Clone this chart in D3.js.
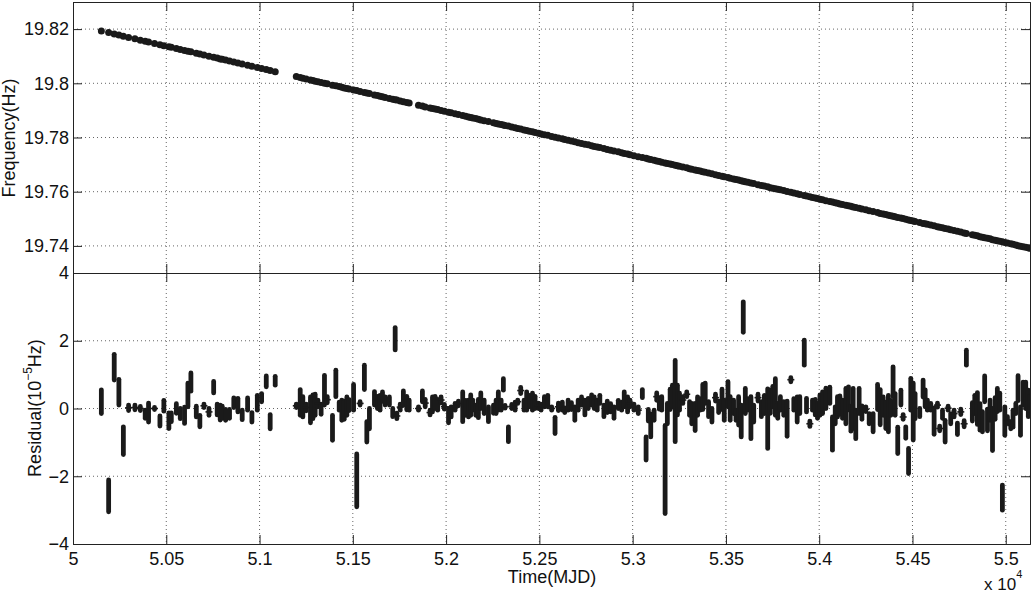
<!DOCTYPE html>
<html><head><meta charset="utf-8">
<script src="https://cdn.jsdelivr.net/npm/d3@7"></script>
<style>
html,body{margin:0;padding:0;background:#fff;}
svg{display:block;font-family:"Liberation Sans",Arial,Helvetica,sans-serif;}
</style></head>
<body>
<svg id="chart" width="1033" height="594"></svg>
<script>
// Observation epochs (MJD)
const times = [50152,50191,50221,50246,50270,50298,50332,50361,50387,50405,50437,50466,50487,50514,50527,50554,50575,50598,50616,50632,50661,50680,50702,50729,50754,50773,50789,50800,50818,50839,50862,50884,50907,50936,50959,50988,51011,51036,51057,51084,
51197,51218,51232,51250,51273,51286,51298,51313,51330,51348,51363,51391,51409,51427,51441,51454,51468,51480,51504,51521,51539,51562,51575,51589,51616,51632,51646,51659,51673,51696,51714,51727,51736,51754,51771,51789,51802,
51852,51873,51888,51914,51927,51941,51955,51973,51991,52013,52027,52048,52066,52089,52105,52120,52132,52143,52159,52173,52186,52204,52227,52254,52268,52280,52295,52307,52316,52334,52352,52370,52384,52400,52418,52432,52447,52463,52477,52495,52509,52527,52545,52566,52584,52602,52623,
52636,52654,52672,52690,52708,52726,52744,52762,52780,52794,52810,52824,52846,52864,52882,52900,52923,52941,52955,52973,52986,53007,53030,53052,53072,53084,53097,53115,53129,53143,53156,53174,53186,53201,53213,53228,53240,53251,53269,53290,53305,53317,53335,53348,53362,53376,53389,53407,53425,53444,53461,53479,53491,53511,53523,53541,53554,53568,53582,53593,53604,53618,53634,53649,53672,53690,53706,53724,53738,53751,53765,53778,53792,53810,53828,53848,53864,53882,53896,
53920,53932,53950,53964,53979,53991,54004,54018,54036,54057,54071,54086,54098,54111,54125,54143,54157,54170,54182,54196,54214,54229,54250,54268,54289,54313,54327,54343,54357,54371,54384,54396,54407,54421,54438,54450,54464,54479,54491,54504,54514,54539,54557,54568,54580,54598,54616,54634,54646,54661,54675,54691,54705,54723,54741,54759,54777,54789,
54821,54834,54848,54862,54875,54887,54902,54916,54929,54943,54955,54968,54982,54995,55009,55027,55039,55054,55066,55079,55093,55107,55121,55128];

// Measured spin frequency (Hz)
const frequency = [19.8193,19.8187,19.8182,19.8178,19.8174,19.8169,19.8164,19.8159,19.8155,19.8152,19.8147,19.8142,19.8139,19.8135,19.8133,19.8128,19.8125,19.8121,19.8118,19.8116,19.8111,19.8108,19.8104,19.8100,19.8096,19.8093,19.8090,19.8089,19.8086,19.8082,19.8079,19.8075,19.8071,19.8067,19.8063,19.8058,19.8055,19.8051,19.8047,19.8043,
19.8025,19.8021,19.8019,19.8016,19.8012,19.8010,19.8008,19.8006,19.8003,19.8000,19.7998,19.7993,19.7991,19.7988,19.7985,19.7983,19.7981,19.7979,19.7975,19.7973,19.7970,19.7966,19.7964,19.7962,19.7957,19.7955,19.7952,19.7950,19.7948,19.7944,19.7941,19.7939,19.7938,19.7935,19.7932,19.7929,19.7927,
19.7919,19.7916,19.7913,19.7909,19.7907,19.7905,19.7903,19.7900,19.7897,19.7893,19.7891,19.7888,19.7885,19.7881,19.7878,19.7876,19.7874,19.7872,19.7870,19.7867,19.7865,19.7862,19.7859,19.7854,19.7852,19.7850,19.7848,19.7846,19.7844,19.7842,19.7839,19.7836,19.7833,19.7831,19.7828,19.7826,19.7823,19.7821,19.7818,19.7816,19.7813,19.7810,19.7808,19.7804,19.7801,19.7798,19.7795,
19.7793,19.7790,19.7787,19.7784,19.7781,19.7778,19.7775,19.7773,19.7770,19.7767,19.7765,19.7763,19.7759,19.7756,19.7753,19.7750,19.7747,19.7744,19.7741,19.7739,19.7736,19.7733,19.7729,19.7726,19.7723,19.7721,19.7719,19.7716,19.7713,19.7711,19.7709,19.7706,19.7704,19.7702,19.7700,19.7698,19.7696,19.7694,19.7691,19.7688,19.7685,19.7683,19.7680,19.7678,19.7676,19.7674,19.7672,19.7669,19.7666,19.7663,19.7660,19.7657,19.7655,19.7652,19.7650,19.7647,19.7645,19.7643,19.7640,19.7639,19.7637,19.7635,19.7632,19.7630,19.7626,19.7623,19.7621,19.7618,19.7615,19.7613,19.7611,19.7609,19.7607,19.7604,19.7601,19.7598,19.7595,19.7592,19.7590,
19.7586,19.7584,19.7581,19.7579,19.7577,19.7575,19.7572,19.7570,19.7567,19.7564,19.7562,19.7559,19.7557,19.7555,19.7553,19.7550,19.7548,19.7546,19.7544,19.7542,19.7539,19.7536,19.7533,19.7530,19.7527,19.7523,19.7520,19.7518,19.7516,19.7513,19.7511,19.7509,19.7508,19.7505,19.7503,19.7501,19.7498,19.7496,19.7494,19.7492,19.7490,19.7486,19.7483,19.7482,19.7480,19.7477,19.7474,19.7471,19.7469,19.7467,19.7464,19.7462,19.7460,19.7457,19.7454,19.7451,19.7448,19.7446,
19.7441,19.7439,19.7437,19.7434,19.7432,19.7430,19.7428,19.7426,19.7423,19.7421,19.7419,19.7417,19.7415,19.7413,19.7411,19.7408,19.7406,19.7403,19.7401,19.7399,19.7397,19.7395,19.7393,19.7391];

// Frequency residuals (units of 1e-5 Hz)
const residual = [0.20,-2.58,1.22,0.48,-0.95,0.02,0.03,0.00,-0.17,-0.12,0.00,-0.37,0.08,-0.36,-0.26,0.00,-0.15,-0.20,0.40,0.78,-0.09,-0.37,0.08,-0.10,0.63,-0.03,-0.12,-0.11,-0.19,-0.16,0.17,0.10,-0.19,0.13,-0.26,0.17,0.32,0.80,-0.39,0.82,
0.08,0.18,0.05,0.03,-0.04,0.05,0.11,0.15,-0.02,0.54,0.26,-0.57,0.74,0.07,-0.05,-0.05,0.07,0.10,0.33,-2.12,0.15,0.92,-0.69,-0.30,0.30,0.18,0.17,0.35,0.22,0.22,-0.12,2.06,-0.22,0.04,0.31,0.16,0.10,
0.00,0.36,0.16,-0.12,0.12,0.18,0.11,0.25,0.05,-0.21,-0.10,0.05,0.15,0.05,0.02,0.00,0.10,0.10,-0.05,0.00,0.23,0.05,-0.17,-0.02,0.05,0.22,0.10,0.71,0.05,-0.76,0.06,0.07,0.20,0.53,0.10,0.22,0.22,0.20,0.18,0.08,0.04,0.20,0.22,0.00,-0.50,0.05,0.07,
-0.05,0.10,0.07,-0.15,0.10,0.22,0.03,0.15,0.25,0.17,0.10,0.27,-0.07,0.05,0.02,-0.12,0.12,0.07,0.27,0.12,0.15,0.04,-0.05,0.44,-1.18,-0.20,-0.50,-0.20,0.35,0.15,0.15,-1.80,-0.15,0.27,0.37,0.22,0.25,0.20,0.25,0.42,0.00,-0.15,-0.25,0.07,0.12,0.34,0.45,-0.02,-0.20,0.32,0.05,0.27,-0.05,0.42,0.00,0.05,-0.20,-0.07,-0.37,2.70,0.22,0.12,-0.27,-0.15,0.32,-0.02,0.12,-0.30,0.20,0.35,0.34,-0.07,0.15,0.00,-0.30,0.85,0.12,-0.03,0.10,
1.65,0.10,-0.45,0.10,0.04,-0.07,0.10,0.17,0.30,0.39,-0.74,-0.20,0.05,0.10,-0.02,0.07,0.30,-0.30,0.00,-0.47,0.22,-0.12,-0.02,-0.30,-0.42,0.34,0.04,0.07,-0.20,-0.15,0.02,0.79,0.12,-0.94,0.32,-0.25,-0.71,-1.55,0.42,-0.09,0.07,-0.12,0.59,0.30,0.10,0.05,-0.37,0.10,-0.59,-0.17,-0.67,0.01,-0.30,-0.15,-0.60,-0.10,-0.45,1.50,
-0.10,0.12,0.00,-0.25,-0.39,0.58,-0.34,-0.05,-0.62,0.00,0.25,0.20,-2.63,-0.37,-0.34,-0.50,-0.30,0.00,0.60,-0.37,0.44,0.39,0.15,0.15];

// Residual uncertainties (units of 1e-5 Hz)
const residualErr = [0.35,0.47,0.38,0.38,0.41,0.08,0.07,0.06,0.12,0.28,0.03,0.15,0.16,0.23,0.13,0.14,0.15,0.24,0.35,0.27,0.16,0.17,0.05,0.10,0.17,0.16,0.22,0.18,0.16,0.13,0.14,0.20,0.14,0.18,0.14,0.22,0.12,0.16,0.21,0.13,
0.05,0.38,0.30,0.10,0.38,0.35,0.31,0.10,0.15,0.44,0.09,0.37,0.39,0.12,0.30,0.27,0.27,0.16,0.38,0.78,0.05,0.36,0.30,0.30,0.20,0.18,0.22,0.14,0.12,0.12,0.12,0.33,0.08,0.09,0.21,0.20,0.15,
0.05,0.16,0.11,0.07,0.22,0.18,0.16,0.09,0.07,0.21,0.15,0.10,0.07,0.44,0.22,0.25,0.30,0.15,0.15,0.27,0.23,0.20,0.22,0.12,0.20,0.27,0.15,0.17,0.04,0.22,0.06,0.12,0.05,0.09,0.15,0.27,0.17,0.25,0.18,0.08,0.09,0.15,0.17,0.05,0.24,0.11,0.12,
0.07,0.15,0.10,0.20,0.15,0.12,0.22,0.15,0.15,0.17,0.15,0.12,0.17,0.17,0.12,0.17,0.12,0.12,0.22,0.22,0.10,0.09,0.10,0.12,0.34,0.17,0.34,0.15,0.11,0.17,0.20,1.30,0.30,0.30,0.32,1.20,0.44,0.25,0.10,0.07,0.20,0.30,0.40,0.27,0.17,0.37,0.30,0.22,0.20,0.10,0.17,0.30,0.30,0.37,0.35,0.20,0.15,0.42,0.47,0.45,0.37,0.17,0.62,0.25,0.10,0.22,0.27,0.88,0.34,0.30,0.54,0.22,0.20,0.20,0.52,0.06,0.17,0.37,0.25,
0.37,0.20,0.08,0.15,0.23,0.22,0.30,0.32,0.30,0.24,0.49,0.25,0.30,0.27,0.27,0.52,0.34,0.37,0.59,0.42,0.37,0.20,0.07,0.15,0.27,0.37,0.52,0.27,0.39,0.54,0.22,0.44,0.32,0.39,0.22,0.07,0.17,0.37,0.47,0.84,0.37,0.12,0.25,0.25,0.15,0.10,0.39,0.06,0.07,0.12,0.32,0.06,0.15,0.10,0.17,0.08,0.09,0.22,
0.27,0.27,0.47,0.39,0.30,0.38,0.32,0.30,0.62,0.32,0.34,0.25,0.37,0.42,0.10,0.10,0.25,0.15,0.37,0.42,0.34,0.39,0.39,0.20];

const xTicks = [50000,50500,51000,51500,52000,52500,53000,53500,54000,54500,55000];
const xTickLabels = ["5","5.05","5.1","5.15","5.2","5.25","5.3","5.35","5.4","5.45","5.5"];
const freqTicks = [19.74,19.76,19.78,19.80,19.82];
const freqTickLabels = ["19.74","19.76","19.78","19.8","19.82"];
const resTicks = [-4,-2,0,2,4];
const resTickLabels = ["\u22124","\u22122","0","2","4"];

const L = 73, R = 1030, T0 = 2, MID = 273, B = 544;
const ink = "#1a1a1a";
const FS = 18;
const svg = d3.select("#chart");

const x = d3.scaleLinear().domain([50000, 55130]).range([L, R]);
const yF = d3.scaleLinear().domain([19.73, 19.83]).range([MID, T0]);
const yR = d3.scaleLinear().domain([-4, 4]).range([B, MID]);

const defs = svg.append("defs");
defs.append("clipPath").attr("id","clipTop").append("rect").attr("x",L).attr("y",T0).attr("width",R-L).attr("height",MID-T0);
defs.append("clipPath").attr("id","clipBot").append("rect").attr("x",L).attr("y",MID).attr("width",R-L).attr("height",B-MID);

function panel(yScale, yTicks, yLabels, top, bottom, showX) {
  const g = svg.append("g");
  g.selectAll(".vg").data(xTicks.filter(d => x(d) > L + 1 && x(d) < R - 1)).enter().append("line")
    .attr("x1", d => x(d)).attr("x2", d => x(d)).attr("y1", top).attr("y2", bottom)
    .attr("stroke", "#666").attr("stroke-width", 1).attr("stroke-dasharray", "1,3");
  g.selectAll(".hg").data(yTicks.filter(d => yScale(d) > top + 1 && yScale(d) < bottom - 1)).enter().append("line")
    .attr("x1", L).attr("x2", R).attr("y1", d => yScale(d)).attr("y2", d => yScale(d))
    .attr("stroke", "#666").attr("stroke-width", 1).attr("stroke-dasharray", "1,3");
  const tl = 9;
  const left = d3.axisLeft(yScale).tickValues(yTicks).tickSize(-tl).tickFormat((d,i) => yLabels[i]).tickPadding(4);
  const right = d3.axisRight(yScale).tickValues(yTicks).tickSize(-tl).tickFormat("");
  const bot = d3.axisBottom(x).tickValues(xTicks).tickSize(-tl).tickFormat((d,i) => showX ? xTickLabels[i] : "").tickPadding(8);
  const tp = d3.axisTop(x).tickValues(xTicks).tickSize(-tl).tickFormat("");
  [ [left, `translate(${L},0)`], [right, `translate(${R},0)`], [bot, `translate(0,${bottom})`], [tp, `translate(0,${top})`] ]
    .forEach(([ax, tr]) => {
      const a = g.append("g").attr("transform", tr).call(ax);
      a.select(".domain").attr("stroke", "#222").attr("stroke-width", 1);
      a.selectAll(".tick line").attr("stroke", "#222");
      a.selectAll("text").attr("fill", "#111").attr("font-size", FS).attr("font-family", '"Liberation Sans",Arial,sans-serif');
    });
  return g;
}

panel(yF, freqTicks, freqTickLabels, T0, MID, false);
panel(yR, resTicks, resTickLabels, MID, B, true);

const pts = times.map((t, i) => ({t, f: frequency[i], r: residual[i], e: residualErr[i]}));

// frequency points
svg.append("g").attr("clip-path", "url(#clipTop)")
  .selectAll("circle").data(pts).enter().append("circle")
  .attr("cx", d => x(d.t)).attr("cy", d => yF(d.f)).attr("r", 3.5).attr("fill", ink);

// residual error bars
const eg = svg.append("g").attr("clip-path", "url(#clipBot)");
eg.selectAll(".bar").data(pts).enter().append("line")
  .attr("x1", d => x(d.t)).attr("x2", d => x(d.t))
  .attr("y1", d => yR(d.r + d.e)).attr("y2", d => yR(d.r - d.e))
  .attr("stroke", ink).attr("stroke-width", 4.8).attr("stroke-linecap", "round");
eg.selectAll(".cap").data(pts.filter(d => d.e < 0.12)).enter().append("line")
  .attr("x1", d => x(d.t) - 3.5).attr("x2", d => x(d.t) + 3.5)
  .attr("y1", d => yR(d.r)).attr("y2", d => yR(d.r))
  .attr("stroke", ink).attr("stroke-width", 1.6);

// labels
svg.append("text").attr("x", 552).attr("y", 583).attr("text-anchor", "middle")
  .attr("font-size", FS).attr("fill", "#111").text("Time(MJD)");
const mult = svg.append("text").attr("x", 984).attr("y", 590).attr("font-size", 17).attr("fill", "#111");
mult.append("tspan").text("x 10");
mult.append("tspan").attr("font-size", 11).attr("dy", -12).text("4");

svg.append("text").attr("transform", "translate(15,138) rotate(-90)").attr("text-anchor", "middle")
  .attr("font-size", FS).attr("fill", "#111").text("Frequency(Hz)");
const rl = svg.append("text").attr("transform", "translate(41,408) rotate(-90)").attr("text-anchor", "middle")
  .attr("font-size", FS).attr("fill", "#111");
rl.append("tspan").text("Residual(10");
rl.append("tspan").attr("font-size", 12).attr("dy", -9).text("\u22125");
rl.append("tspan").attr("dy", 9).text("Hz)");
</script>
</body></html>
